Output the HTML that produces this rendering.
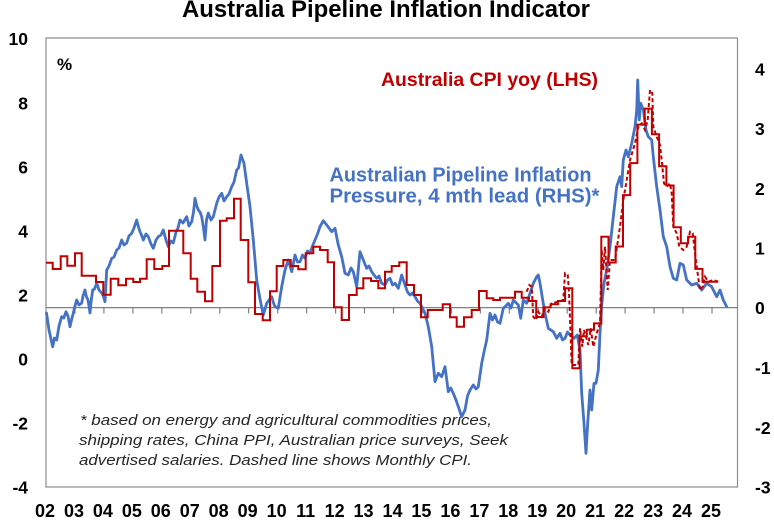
<!DOCTYPE html>
<html>
<head>
<meta charset="utf-8">
<style>
  html,body{margin:0;padding:0;background:#fff;}
  svg{display:block;}
  text{font-family:"Liberation Sans",Arial,sans-serif;}
</style>
</head>
<body>
<svg width="774" height="525" viewBox="0 0 774 525" xmlns="http://www.w3.org/2000/svg">
  <rect x="0" y="0" width="774" height="525" fill="#ffffff"/>

  <!-- Title -->
  <text x="182" y="17" font-size="24" font-weight="bold" fill="#000" textLength="408" lengthAdjust="spacingAndGlyphs">Australia Pipeline Inflation Indicator</text>

  <!-- Plot border -->
  <rect x="46" y="38" width="691.5" height="449" fill="none" stroke="#8c8c8c" stroke-width="1.2"/>

  <!-- Zero line (RHS 0) with ticks -->
  <line x1="46" y1="307.6" x2="737.5" y2="307.6" stroke="#808080" stroke-width="1.2"/>
  <g stroke="#808080" stroke-width="1.2">
    <line x1="75" y1="307.6" x2="75" y2="313.5"/>
    <line x1="103.9" y1="307.6" x2="103.9" y2="313.5"/>
    <line x1="132.9" y1="307.6" x2="132.9" y2="313.5"/>
    <line x1="161.8" y1="307.6" x2="161.8" y2="313.5"/>
    <line x1="190.8" y1="307.6" x2="190.8" y2="313.5"/>
    <line x1="219.8" y1="307.6" x2="219.8" y2="313.5"/>
    <line x1="248.7" y1="307.6" x2="248.7" y2="313.5"/>
    <line x1="277.7" y1="307.6" x2="277.7" y2="313.5"/>
    <line x1="306.6" y1="307.6" x2="306.6" y2="313.5"/>
    <line x1="335.6" y1="307.6" x2="335.6" y2="313.5"/>
    <line x1="364.5" y1="307.6" x2="364.5" y2="313.5"/>
    <line x1="393.5" y1="307.6" x2="393.5" y2="313.5"/>
    <line x1="422.5" y1="307.6" x2="422.5" y2="313.5"/>
    <line x1="451.4" y1="307.6" x2="451.4" y2="313.5"/>
    <line x1="480.4" y1="307.6" x2="480.4" y2="313.5"/>
    <line x1="509.3" y1="307.6" x2="509.3" y2="313.5"/>
    <line x1="538.3" y1="307.6" x2="538.3" y2="313.5"/>
    <line x1="567.2" y1="307.6" x2="567.2" y2="313.5"/>
    <line x1="596.2" y1="307.6" x2="596.2" y2="313.5"/>
    <line x1="625.1" y1="307.6" x2="625.1" y2="313.5"/>
    <line x1="654.1" y1="307.6" x2="654.1" y2="313.5"/>
    <line x1="683" y1="307.6" x2="683" y2="313.5"/>
    <line x1="712" y1="307.6" x2="712" y2="313.5"/>
  </g>

  <!-- Left axis labels -->
  <g font-size="17.5" font-weight="bold" fill="#000" text-anchor="end">
    <text x="28" y="45">10</text>
    <text x="28" y="109.5">8</text>
    <text x="28" y="173.5">6</text>
    <text x="28" y="237.5">4</text>
    <text x="28" y="301.5">2</text>
    <text x="28" y="365.5">0</text>
    <text x="28" y="429.5">-2</text>
    <text x="28" y="493.5">-4</text>
  </g>

  <!-- Right axis labels -->
  <g font-size="17.5" font-weight="bold" fill="#000" text-anchor="start">
    <text x="755" y="75.5">4</text>
    <text x="755" y="135">3</text>
    <text x="755" y="195">2</text>
    <text x="755" y="254.5">1</text>
    <text x="755" y="314">0</text>
    <text x="755" y="374">-1</text>
    <text x="755" y="434">-2</text>
    <text x="755" y="493.5">-3</text>
  </g>

  <!-- X axis labels -->
  <g font-size="18" font-weight="bold" fill="#000" text-anchor="middle">
    <text x="45" y="517">02</text>
    <text x="74" y="517">03</text>
    <text x="102.9" y="517">04</text>
    <text x="131.9" y="517">05</text>
    <text x="160.8" y="517">06</text>
    <text x="189.8" y="517">07</text>
    <text x="218.7" y="517">08</text>
    <text x="247.7" y="517">09</text>
    <text x="276.7" y="517">10</text>
    <text x="305.6" y="517">11</text>
    <text x="334.6" y="517">12</text>
    <text x="363.5" y="517">13</text>
    <text x="392.5" y="517">14</text>
    <text x="421.4" y="517">15</text>
    <text x="450.4" y="517">16</text>
    <text x="479.4" y="517">17</text>
    <text x="508.3" y="517">18</text>
    <text x="537.3" y="517">19</text>
    <text x="566.2" y="517">20</text>
    <text x="595.2" y="517">21</text>
    <text x="624.1" y="517">22</text>
    <text x="653.1" y="517">23</text>
    <text x="682" y="517">24</text>
    <text x="711" y="517">25</text>
  </g>

  <!-- % label -->
  <text x="57" y="70" font-size="17" font-weight="bold" fill="#000">%</text>

  <!-- Series labels -->
  <text x="381" y="86" font-size="19.5" font-weight="bold" fill="#C00000" textLength="217" lengthAdjust="spacingAndGlyphs">Australia CPI yoy (LHS)</text>
  <text x="329.5" y="181.7" font-size="20" font-weight="bold" fill="#4472C4" textLength="262" lengthAdjust="spacingAndGlyphs">Australian Pipeline Inflation</text>
  <text x="329.5" y="202.7" font-size="20" font-weight="bold" fill="#4472C4" textLength="270" lengthAdjust="spacingAndGlyphs">Pressure, 4 mth lead (RHS)*</text>

  <!-- Footnote -->
  <g font-size="15" font-style="italic" fill="#262626">
    <text x="80" y="425" textLength="412" lengthAdjust="spacingAndGlyphs">* based on energy and agricultural commodities prices,</text>
    <text x="79" y="445" textLength="429" lengthAdjust="spacingAndGlyphs">shipping rates, China PPI, Australian price surveys, Seek</text>
    <text x="79" y="465" textLength="393" lengthAdjust="spacingAndGlyphs">advertised salaries. Dashed line shows Monthly CPI.</text>
  </g>

  <!-- Blue series: Pipeline Inflation Pressure (RHS) -->
  <polyline fill="none" stroke="#4472C4" stroke-width="2.8" stroke-linejoin="round" stroke-linecap="round"
    points="46.5,313 49,330 52.7,346.7 54.5,338 56.7,340 59,326 61.7,316.7 63.8,318 66,311.7 68,316 70,326.7 71.5,320 73.3,313 75,306 76.7,300 79,305 81.7,303 83,296 85,290 86.5,297 88,300 89,306 90,313 91.3,300 92.7,290 94.5,289 96.7,283.3 99,290 101.7,293 103.3,296 105,301.7 106.7,270 109,266 111.7,258.3 114,257 116.7,250 119,248 121.7,240 124,245 126.7,243 129,236 131.7,233.3 134,228 136.7,220 138.5,227 140,231.7 141.5,235 143.3,240 146,234 148.3,236.7 151,244 153.3,248.3 156,240 158.3,236.7 161,235 163.3,230 166,240 168.3,246.7 171,241 173.3,243 176,232 178,228 180,220 183,223 186.7,216.7 189,226 191.7,221.7 193.5,212 195,198.3 196.8,206 198.3,210 200,212 201.7,216.7 203.5,228 205,240 206.5,220 208.3,213 211,220 213.3,216.7 215,210 216.7,203.3 219,197 221.7,193.3 224,201 226.7,196.7 229,194 231.7,186.7 234,182 236.7,170 238.5,168 241,155 244,163.3 246.7,183.3 250,206.7 253.3,240 256.7,280 260,299 263.3,315 266.7,303.3 269,300 271.7,296.7 273.5,303 275,306.7 278.3,308.3 281.7,286.7 285,270 288.3,260 291.7,271.7 295,255 297.5,262 300,261.7 302.5,255 305,258.3 307.5,251 310,253.3 312.5,246 315,240 317.5,234 320,226.7 323.3,220.7 326.7,225 329,228 331.7,231.7 335,228.3 338.3,245 341.7,256.7 345,273.3 348.3,275 351,268 353.3,271.7 356.7,286.7 360,251.7 363.3,260 366.7,268.3 369,266 371.7,271.7 374,275 376.7,278.3 379,276 381.7,283.3 385,285 387.5,280 390,278.3 392.5,285 395,283.3 398.3,288.3 401.7,275 405,285 407.5,292 410,295 412.5,293 415,296.7 417.5,301 420,303.3 425,313.3 428.3,326.7 431.7,346.7 435,381.7 438.3,373.3 441.7,376.7 445,366.7 448.3,391.7 450.8,388 453.3,393.3 456,400 458.3,406.7 461.7,416.7 465,410 467.5,396 470,390 473.3,385 476,389 478.3,386.7 481.7,363.3 484,352 486.7,340 490,313.3 492.5,320 495,315 497.5,322 500,323.3 503.3,308.3 505.8,306 508.3,303.3 511,308 513.3,300 518.3,305 520.7,318.3 523.3,300 526.7,303.3 530,293.3 533.3,283.3 536.7,276.7 538.3,275 540,283.3 542.7,300 545,313.3 548.3,328.3 553.3,331.7 556.7,338.3 560,333.3 562.5,340 565,338.3 567.5,332 570,335 574,338.3 577.3,335 580,350 581.7,393.3 584,423.3 586,453.3 587.7,423.3 590,390 591.7,410 594,383.3 596,383.3 598.3,370 600,333.3 601.7,305 604,283.3 606.7,270 610,246.7 613.3,216.7 616.7,186.7 620,176.7 621.7,186.7 623.3,160 626,150 628.3,156.7 631.7,143.3 635,126.7 636.7,110 637.7,80 639.3,120 640.7,103.3 643.3,110 646,130 648.3,136.7 651.7,140 653.3,156.7 656.7,186.7 660,210 663.3,236.7 666.7,246.7 670,266.7 673.3,278.3 676.7,280 680,263.3 683.3,265 686.7,280 691.7,285 696.7,283.3 701.7,290 706.7,283.3 711.7,286.7 716.7,296.7 720,290 723.3,300 726.7,306.7"/>

  <!-- Red solid: quarterly CPI (LHS) -->
  <path fill="none" stroke="#C00000" stroke-width="2" stroke-linejoin="miter"
    d="M46,262.7 H52.7 V269 H60.7 V256.3 H67.3 V265.7 H75 V253.3 H81.7 V275.7 H96 V282 H103.3 V294.7 H110.7 V278.7 H118.3 V285.3 H126 V278.7 H133.3 V282 H140 V278.7 H146.7 V259.3 H154.3 V269 H162.3 V266 H169 V230.7 H183.3 V253.3 H190.7 V278.7 H197.3 V291.7 H205 V301.3 H212.3 V266 H220 V220.7 H226.7 V218.3 H234 V198.7 H240.7 V240 H248.3 V282.3 H255 V314 H262.7 V320.3 H270 V291.3 H276.7 V266 H283.3 V260 H290.7 V266 H298.3 V269.3 H305.7 V253.3 H313.3 V246.7 H320 V250 H327.7 V262.3 H334 V307.3 H341.7 V320 H349 V295 H356.7 V288.3 H363.3 V278.3 H371 V281 H378.3 V288.3 H385 V271.7 H391.7 V266 H399.3 V262.3 H406.7 V285 H414 V295 H421 V317.3 H427.7 V310 H442.7 V304.3 H450 V317.3 H456.7 V326.7 H464 V317.3 H471.7 V310 H479 V291 H486.7 V298.3 H493.3 V300 H500 V297.7 H515 V291.7 H521.7 V297.8 H528.9 V301 H536.2 V317 H543.4 V307.4 H550.6 V304.2 H557.9 V301 H565.1 V288.2 H572.3 V368.3 H579.6 V336.3 H586.8 V329.8 H594 V323.4 H601.3 V236.8 H608.5 V262.5 H615.7 V246.5 H623 V195.1 H630.2 V163.1 H637.4 V124.6 H644.7 V108.6 H651.9 V134.2 H659.1 V166.3 H666.4 V185.5 H673.6 V227.2 H680.8 V243.2 H688.1 V236.8 H695.3 V268.9 H702.5 V281.7 H718"/>

  <!-- Red dashed: monthly CPI -->
  <polyline fill="none" stroke="#C00000" stroke-width="2" stroke-dasharray="4,2.5"
    points="526.7,291.7 529.3,285 531.7,286.7 533.3,316.7 536,320 538.3,311.7 541.7,316.7 545,308.3 548.3,311.7 551.7,303.3 558.3,301.7 563.3,300 565,273.3 567.7,275 569,291.7 571.7,365 578.3,365 580,328.3 582.3,346.7 584,330 586,336.7 588.3,345 590.7,328.3 593.3,346.7 596.7,333.3 600,323.3 601.7,250 603.3,270 605,246.7 607.7,290 610,260 615,260 620,226.7 623.3,200 626.7,180 630,160 635,143.3 638.3,126.7 641.7,123.3 645,130 647.7,120 650,90 652.3,93.3 653.3,126.7 656.7,136.7 660,145 661.7,160 664,183.3 666.7,186.7 670,183.3 671.7,193.3 673.3,226.7 676.7,233.3 679.3,246.7 683.3,250 686.7,246.7 690,231.7 692.7,233.3 695,253.3 696.7,266.7 700,290 702.7,286.7 705,276.7 708.3,281.7 713.3,280 718.3,281.7"/>
</svg>
</body>
</html>
